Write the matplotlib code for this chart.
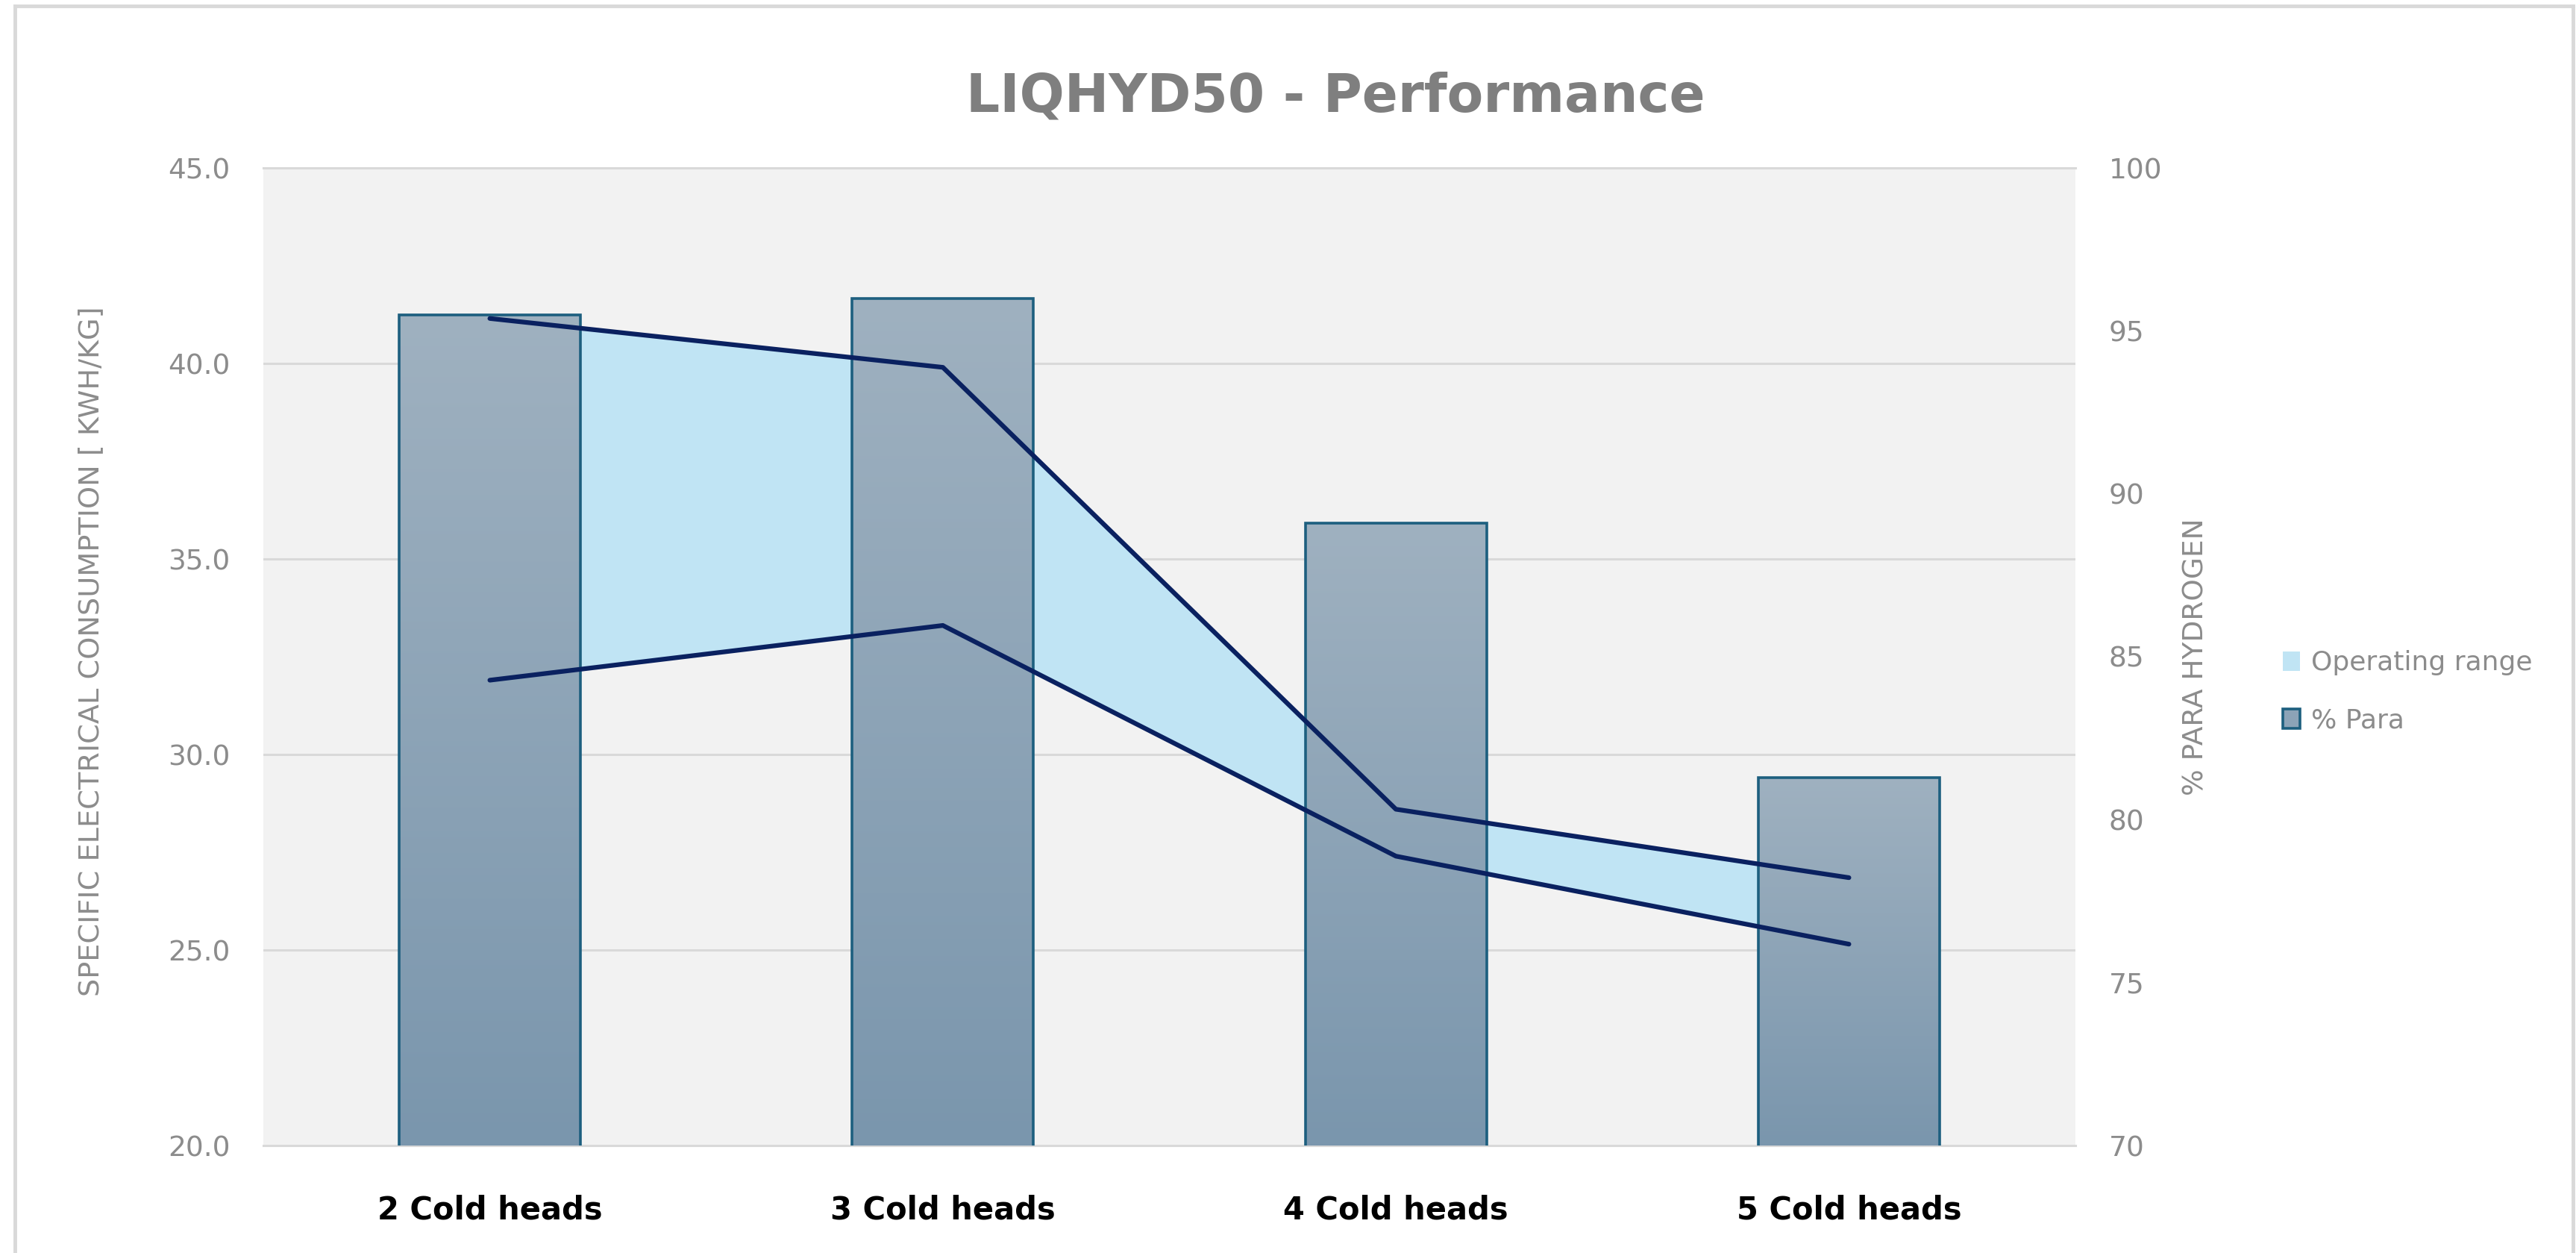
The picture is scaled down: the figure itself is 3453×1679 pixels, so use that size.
import numpy as np
import matplotlib
matplotlib.use('Agg')
import matplotlib.pyplot as plt
from matplotlib.patches import Patch
from matplotlib.lines import Line2D
from matplotlib.colors import to_rgb

# ---- data ----
categories = ['2 Cold heads', '3 Cold heads', '4 Cold heads', '5 Cold heads']
para_pct = [95.5, 96.0, 89.1, 81.3]          # bars, right axis (% para hydrogen)
sec_upper = [41.15, 39.9, 28.6, 26.85]       # operating range upper bound (kWh/kg)
sec_lower = [31.9, 33.3, 27.4, 25.15]        # operating range lower bound (kWh/kg)
left_ticks = [20, 25, 30, 35, 40, 45]
right_ticks = [70, 75, 80, 85, 90, 95, 100]

W, H = 3453, 1679
fig = plt.figure(figsize=(W / 100, H / 100), dpi=100)
fig.patch.set_facecolor('white')

GRAY_TXT = '#8c8c8c'
GRID = '#d9d9d9'
L, R, T, B = 353, 2782, 225, 1535
pos = [L / W, 1 - B / H, (R - L) / W, (B - T) / H]

# background axis: grid + operating range fill (left scale)
ax = fig.add_axes(pos)
ax.set_facecolor('#f2f2f2')
x = np.arange(len(categories))
ax.fill_between(x, sec_lower, sec_upper, color='#c0e4f4', lw=0, zorder=1)
ax.set_xlim(-0.5, len(categories) - 0.5)
ax.set_ylim(left_ticks[0], left_ticks[-1])
ax.set_yticks(left_ticks)
ax.set_yticklabels([f'{v:.1f}' for v in left_ticks])
ax.grid(axis='y', color=GRID, lw=2.2)
ax.set_axisbelow(True)
for s in ['left', 'right']:
    ax.spines[s].set_visible(False)
for s in ['top', 'bottom']:
    ax.spines[s].set_color(GRID)
    ax.spines[s].set_linewidth(2.2)
ax.tick_params(axis='y', length=0, pad=32, labelsize=27, labelcolor=GRAY_TXT)
ax.set_xticks(x)
ax.set_xticklabels(categories, fontweight='bold', color='black')
ax.tick_params(axis='x', length=0, pad=47, labelsize=30)

# bars on right scale
ax2 = ax.twinx()
edge = '#1d5f7f'
bars = ax2.bar(x, para_pct, width=0.4, bottom=0, facecolor='none',
               edgecolor=edge, lw=2.6, zorder=3)
c_top = np.array(to_rgb('#9fb1c0'))
c_bot = np.array(to_rgb('#7a96ad'))
t = np.linspace(0, 1, 256).reshape(-1, 1, 1)
grad = c_top * (1 - t) + c_bot * t
ax2.set_ylim(right_ticks[0], right_ticks[-1])
for b in bars:
    y0 = right_ticks[0]
    ax2.imshow(grad, extent=[b.get_x(), b.get_x() + b.get_width(), y0, b.get_height()],
               aspect='auto', origin='upper', zorder=2, interpolation='bilinear')
ax2.set_xlim(-0.5, len(categories) - 0.5)
ax2.set_ylim(right_ticks[0], right_ticks[-1])
ax2.set_yticks(right_ticks)
ax2.tick_params(axis='y', length=0, pad=32, labelsize=27, labelcolor=GRAY_TXT)
for s in ax2.spines.values():
    s.set_visible(False)

# lines on top (left scale)
ax3 = fig.add_axes(pos, sharex=ax, sharey=ax)
ax3.patch.set_visible(False)
ax3.axis('off')
line_c = '#0a2160'
ax3.plot(x, sec_upper, color=line_c, lw=4.5, solid_capstyle='round')
ax3.plot(x, sec_lower, color=line_c, lw=4.5, solid_capstyle='round')
ax3.set_xlim(-0.5, len(categories) - 0.5)
ax3.set_ylim(left_ticks[0], left_ticks[-1])

# title and axis labels
fig.text(1790 / W, 1 - 150 / H, 'LIQHYD50 - Performance', ha='center', va='baseline',
         fontsize=51, fontweight='bold', color='#7f7f7f')
fig.text(122 / W, 1 - 873 / H, 'SPECIFIC ELECTRICAL CONSUMPTION [ KWH/KG]', rotation=90,
         ha='center', va='center', fontsize=27.5, color=GRAY_TXT)
fig.text(2944 / W, 1 - 880 / H, '% PARA HYDROGEN', rotation=90,
         ha='center', va='center', fontsize=27, color=GRAY_TXT)

# legend
handles = [Patch(facecolor='#c0e4f4', edgecolor='none', label='Operating range'),
           Patch(facecolor='#8ca3b7', edgecolor=edge, lw=2.6, label='% Para')]
fig.legend(handles=handles, loc='center left', bbox_to_anchor=(3060 / W, 1 - 927 / H),
           frameon=False, fontsize=26, labelcolor=GRAY_TXT, handlelength=0.65,
           handleheight=0.75, handletextpad=0.4, labelspacing=1.2, borderpad=0,
           borderaxespad=0)

# chart border
for xs, ys in [([20 / W, 20 / W], [0, 1 - 8 / H]),
               ([20 / W, 3449 / W], [1 - 8 / H, 1 - 8 / H]),
               ([3449 / W, 3449 / W], [0, 1 - 8 / H])]:
    fig.add_artist(Line2D(xs, ys, transform=fig.transFigure, color=GRID, lw=3.5))

fig.savefig('out.png', dpi=100)
